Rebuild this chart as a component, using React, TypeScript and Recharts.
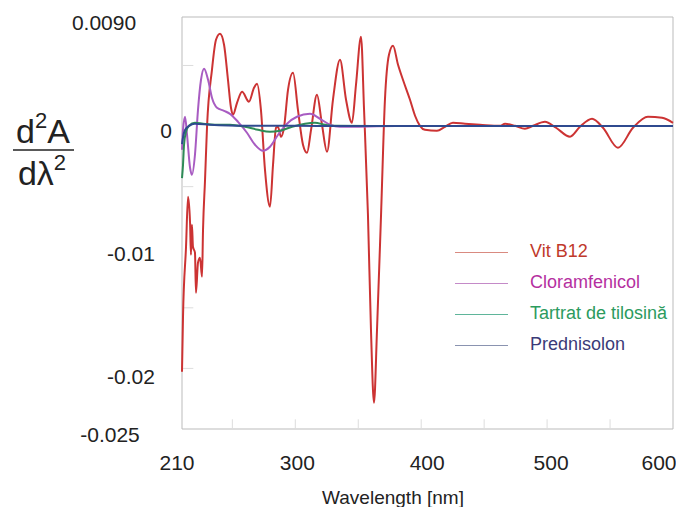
import React from 'react';
import { LineChart, Line, XAxis, YAxis, Legend, ReferenceArea, ReferenceLine } from 'recharts';

const FONT = '"Liberation Sans", Arial, sans-serif';

// wavelength (nm) and second-derivative values
const vitWl = [210, 210.8, 213.2, 214.8, 216.4, 217.1, 217.9, 218.7, 220.3, 221.1, 222.7, 224.3, 225.9, 226.7, 228.3, 229.9, 233.8, 237, 240.2, 243.4, 246.5, 248.9, 250.5, 253.7, 257.7, 263.2, 267.2, 269.6, 272.7, 275.9, 279.9, 282.3, 284.7, 286.2, 288.6, 291, 294.2, 298.2, 302.1, 306.1, 309.3, 312.5, 317.2, 321.2, 325.2, 329.9, 335.5, 340.3, 345, 348.2, 352.2, 354.6, 357.7, 360.1, 362.5, 364.9, 368.1, 371.2, 374.4, 377.6, 381.6, 385.5, 391.1, 395.1, 399, 403, 412.5, 418.9, 425.2, 434.8, 446.7, 462.6, 466.6, 474.5, 482.4, 488.8, 498.3, 507.1, 518.2, 526.1, 535.7, 544.4, 556.3, 568.2, 580.1, 591.3, 600];
const vitVal = [-0.02027, -0.01573, -0.00996, -0.00583, -0.00798, -0.01062, -0.00814, -0.00996, -0.01045, -0.01375, -0.01127, -0.01086, -0.01243, -0.00855, -0.00443, 0, 0.00464, 0.00712, 0.00761, 0.00671, 0.00383, 0.00151, 0.00093, 0.00192, 0.00283, 0.00201, 0.00316, 0.00349, 0.00134, -0.0036, -0.00666, -0.00319, -0.00014, -0.00006, -0.00088, -0.00014, 0.00299, 0.0044, 0.00134, -0.00154, -0.0022, -0.00031, 0.00258, 0.00011, -0.00212, 0.00217, 0.00547, 0.00217, 0.00027, 0.00341, 0.00737, 0.00134, -0.00732, -0.01681, -0.02283, -0.01681, -0.00732, 0.00217, 0.00588, 0.00662, 0.00506, 0.00382, 0.00217, 0.00085, 0.00002, -0.00031, -0.00039, -0.00006, 0.00027, 0.00019, 0.00011, 0.00002, 0.00019, 0.00002, -0.00022, 0.00002, 0.00035, -0.00014, -0.00088, -0.00006, 0.0006, -0.00014, -0.00179, -0.00014, 0.00077, 0.00068, 0.00027];

const cloWl = [210, 210.8, 212.4, 214, 216.4, 217.9, 220.3, 222.7, 225.1, 227.5, 230.7, 233.8, 237.8, 243.4, 248.1, 254.5, 261.6, 268, 274.3, 279.9, 286.3, 293.4, 301.3, 311.7, 319.6, 327.6, 335.5, 380, 480, 600];
const cloVal = [-0.00196, -0.00031, 0.00077, -0.00072, -0.00344, -0.00402, -0.00237, 0.00134, 0.00382, 0.00473, 0.00382, 0.00233, 0.00151, 0.00126, 0.00101, 0.00035, -0.00055, -0.00154, -0.00204, -0.00171, -0.00072, 0.00019, 0.00077, 0.00101, 0.0006, 0.00011, -0.00006, 0, 0, 0];

const tilWl = [210, 210.8, 211.6, 213.2, 215.6, 220.3, 226.7, 236.2, 248.1, 260, 270.4, 279.9, 287.8, 297.4, 307.7, 315.6, 323.6, 331.5, 380, 480, 600];
const tilVal = [-0.00429, -0.00321, -0.00156, -0.00047, 0.00002, 0.00027, 0.00019, 0.00011, 0.00011, -0.00006, -0.00031, -0.00047, -0.00039, -0.00006, 0.00019, 0.00027, 0.00011, 0.00002, 0, 0, 0];

const preWl = [210, 210.8, 212.4, 215.6, 220.3, 232, 260, 300, 350, 450, 600];
const preVal = [-0.0015, -0.00093, -0.00032, 0.00002, 0.00019, 0.00011, 0.00002, 0.00002, 0, 0, 0];

const xTicks = [210, 300, 400, 500, 600];
const yTicks = [0.009, 0, -0.01, -0.02, -0.025];
const yTickText = ['0.0090', '0', '-0.01', '-0.02', '-0.025'];
const minorX = [250, 300, 350, 400, 450, 500, 550];
const minorY = [0.005, -0.005, -0.015, -0.02];

const toPoints = (wl: number[], val: number[]) => wl.map((w, i) => ({ wl: w, v: val[i] }));

const series = [
  { name: 'Vit B12', data: toPoints(vitWl, vitVal), stroke: '#cc3333', legendLine: '#d98a80', text: '#c0392b' },
  { name: 'Cloramfenicol', data: toPoints(cloWl, cloVal), stroke: '#a85cc2', legendLine: '#c48ac8', text: '#b5309f' },
  { name: 'Tartrat de tilosină', data: toPoints(tilWl, tilVal), stroke: '#2e8b57', legendLine: '#5fb59a', text: '#2c9b5e' },
  { name: 'Prednisolon', data: toPoints(preWl, preVal), stroke: '#2f4a8f', legendLine: '#8a93b0', text: '#3b3b78' },
];

// hand placed label positions in the original figure
const yLabelPos = [
  { x: 96, dy: 5 },
  { x: 158, dy: 4 },
  { x: 123, dy: 6 },
  { x: 123, dy: 8 },
  { x: 102, dy: 5 },
];
const xLabelDx = [-5, 2, 6, 4, -14];

const YTick = (props: any) => {
  const i = yTicks.indexOf(props.payload.value);
  if (i < 0) return null;
  return (
    <text x={yLabelPos[i].x} y={props.y + yLabelPos[i].dy} textAnchor="middle" dominantBaseline="central"
      fontSize={21} fill="#222" fontFamily={FONT}>
      {yTickText[i]}
    </text>
  );
};

const XTick = (props: any) => {
  const i = xTicks.indexOf(props.payload.value);
  if (i < 0) return null;
  return (
    <text x={props.x + xLabelDx[i]} y={454} textAnchor="middle" dominantBaseline="central"
      fontSize={21} fill="#222" fontFamily={FONT}>
      {props.payload.value}
    </text>
  );
};

const XTitle = () => (
  <text x={385} y={489} textAnchor="middle" dominantBaseline="central" fontSize={19} fill="#222" fontFamily={FONT}>
    Wavelength [nm]
  </text>
);

const Fraction = () => (
  <g fontFamily={FONT} fill="#222">
    <text x={35} y={135} textAnchor="middle" fontSize={34}>
      d<tspan fontSize={22} dy={-15}>2</tspan><tspan dy={15}>A</tspan>
    </text>
    <line x1={5} x2={66} y1={142} y2={142} stroke="#222" strokeWidth={1.5} />
    <text x={34} y={177} textAnchor="middle" fontSize={34}>
      dλ<tspan fontSize={22} dy={-15}>2</tspan>
    </text>
  </g>
);

const LegendBox = () => (
  <div style={{ fontFamily: FONT }}>
    {series.map((s) => (
      <div key={s.name} style={{ position: 'relative', height: 31 }}>
        <div style={{ position: 'absolute', left: 0, top: 15, width: 53, borderTop: `1.5px solid ${s.legendLine}` }} />
        <div style={{ position: 'absolute', left: 75, top: 4, fontSize: 18, color: s.text, whiteSpace: 'nowrap' }}>{s.name}</div>
      </div>
    ))}
  </div>
);

export default function App() {
  return (
    <LineChart width={676} height={499} margin={{ top: 9, right: 11, bottom: 0, left: 0 }}>
      <XAxis
        type="number"
        dataKey="wl"
        domain={[210, 600]}
        ticks={xTicks}
        interval={0}
        height={78}
        tickLine={false}
        axisLine={false}
        tick={<XTick />}
        allowDuplicatedCategory={false}
        label={{ content: () => <XTitle /> }}
      />
      <YAxis
        type="number"
        dataKey="v"
        domain={[-0.025, 0.009]}
        ticks={yTicks}
        interval={0}
        width={174}
        tickLine={false}
        axisLine={false}
        tick={<YTick />}
        label={{ content: () => <Fraction /> }}
      />
      {minorX.map((w) => (
        <ReferenceLine key={`mx${w}`} segment={[{ x: w, y: -0.025 }, { x: w, y: -0.0242 }]} stroke="#dddddd" />
      ))}
      {minorY.map((v) => (
        <ReferenceLine key={`my${v}`} segment={[{ x: 210, y: v }, { x: 219, y: v }]} stroke="#dddddd" />
      ))}
      <ReferenceArea x1={210} x2={600} y1={-0.025} y2={0.009} fill="none" stroke="#bbbbbb" ifOverflow="extendDomain" />
      {series.map((s) => (
        <Line
          key={s.name}
          data={s.data}
          dataKey="v"
          name={s.name}
          type="monotone"
          stroke={s.stroke}
          strokeWidth={2}
          dot={false}
          isAnimationActive={false}
        />
      ))}
      <Legend
        layout="vertical"
        align="center"
        verticalAlign="middle"
        content={<LegendBox />}
        wrapperStyle={{ position: 'absolute', left: 447, top: 229, width: 220 }}
      />
    </LineChart>
  );
}
